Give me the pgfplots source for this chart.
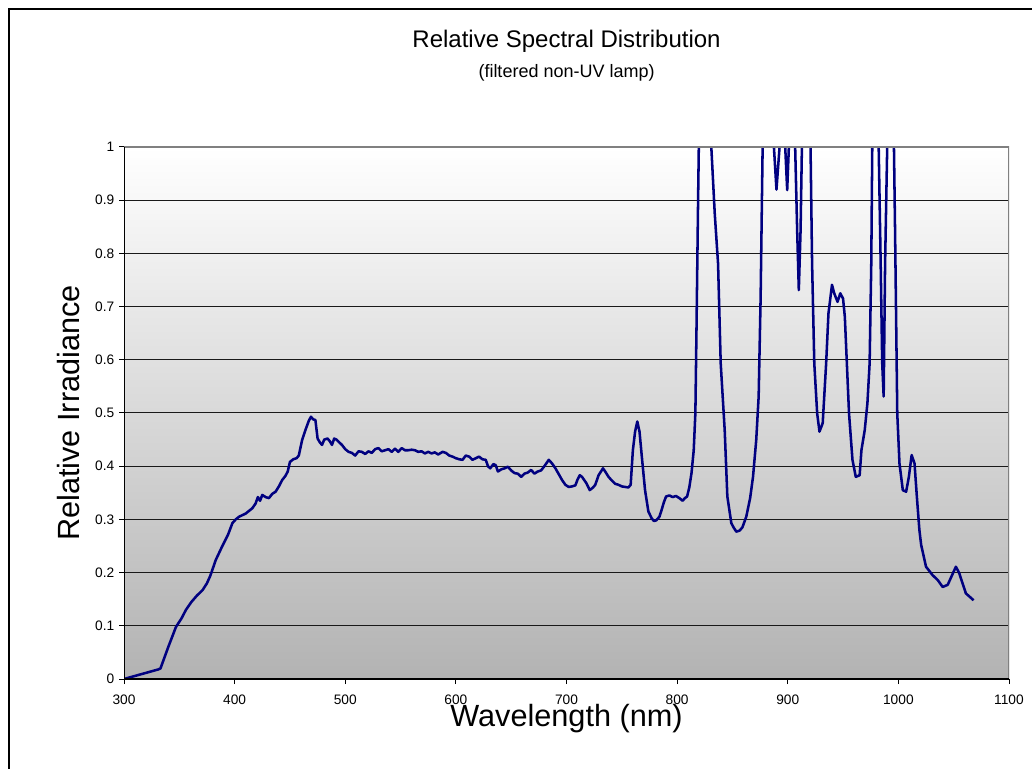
\documentclass[border=0pt]{standalone}
\usepackage{fontspec}
\setmainfont{Liberation Sans}
\usepackage{pgfplots}
\pgfplotsset{compat=1.18}
\definecolor{specline}{RGB}{0,0,128}

\begin{document}
\begin{tikzpicture}
% page = 1032 x 768 px at 0.75 pt per px
\useasboundingbox (0,0) rectangle (774pt,576pt);
\draw[black, line width=1.3pt] (6.75pt,-20pt) rectangle (800pt,569pt);

\node[anchor=base, font=\fontsize{18}{20}\selectfont] at (424.9pt,540pt) {Relative Spectral Distribution};
\node[anchor=base, font=\fontsize{13.5}{15}\selectfont] at (424.9pt,517.5pt) {(filtered non-UV lamp)};

\begin{axis}[
    at={(93pt,66.75pt)}, anchor=south west,
    scale only axis,
    width=663.75pt, height=399pt,
    xmin=300, xmax=1100,
    ymin=0, ymax=1,
    xtick={300,400,...,1100},
    ytick={0,0.1,...,1},
    yticklabels={0,0.1,0.2,0.3,0.4,0.5,0.6,0.7,0.8,0.9,1},
    xtick pos=bottom, ytick pos=left,
    tick align=outside,
    major tick length=3.75pt,
    tick style={black, line width=0.75pt},
    ymajorgrids,
    grid style={black!90, line width=0.75pt},
    axis line style={draw=none},
    axis background/.style={shade, top color=white, bottom color=black!30},
    ticklabel style={font=\fontsize{10.3}{12}\selectfont},
    xticklabel style={yshift=-5pt},
    /pgf/number format/assume math mode=true,
    /pgf/number format/1000 sep={},
    xlabel={Wavelength (nm)},
    ylabel={Relative Irradiance},
    label style={font=\fontsize{23}{26}\selectfont},
    xlabel style={at={(axis description cs:0.5,-0.0897)}, anchor=base},
    ylabel style={at={(axis description cs:-0.0508,0.5)}, anchor=base},
]
\addplot[specline, line width=1.9pt, line join=round] coordinates {
(300,0) (331,0.018) (333,0.02) (340,0.06) (347,0.098) (352,0.114) (356,0.13)
(361,0.145) (366,0.157) (371,0.167) (375,0.18) (378,0.194) (383,0.224)
(388,0.246) (394,0.271) (398,0.293) (401,0.300) (404,0.305) (410,0.311)
(416,0.321) (419,0.33) (421,0.342) (423,0.335) (425,0.346) (428,0.342)
(431,0.340) (434,0.348) (437,0.352) (440,0.362) (443,0.374) (446,0.382)
(448,0.39) (450,0.408) (453,0.413) (456,0.415) (458,0.42) (461,0.449)
(464,0.468) (467,0.485) (469,0.493) (471,0.488) (473,0.487) (475,0.452)
(477,0.445) (479,0.44) (481,0.45) (484,0.452) (486,0.447) (488,0.44)
(490,0.452) (492,0.45) (494,0.446) (497,0.44) (500,0.432) (503,0.427)
(506,0.425) (509,0.42) (512,0.428) (515,0.427) (518,0.423) (521,0.428)
(524,0.425) (527,0.432) (530,0.434) (533,0.428) (536,0.43) (539,0.432)
(542,0.427) (545,0.433) (548,0.427) (551,0.434) (554,0.43) (557,0.43)
(560,0.431) (563,0.430) (566,0.427) (569,0.428) (572,0.424) (575,0.427)
(578,0.424) (581,0.426) (584,0.422) (588,0.427) (591,0.425) (594,0.42)
(597,0.418) (600,0.415) (603,0.413) (606,0.412) (609,0.42) (612,0.418)
(615,0.412) (618,0.415) (621,0.418) (624,0.413) (627,0.412) (629,0.400)
(631,0.396) (634,0.404) (636,0.402) (638,0.39) (641,0.394) (644,0.396)
(647,0.399) (650,0.392) (653,0.387) (656,0.386) (659,0.380) (662,0.386)
(665,0.388) (668,0.393) (671,0.386) (674,0.39) (677,0.392) (680,0.4)
(684,0.412) (687,0.405) (690,0.396) (693,0.385) (696,0.374) (699,0.365)
(702,0.361) (705,0.362) (708,0.364) (710,0.375) (712,0.383) (714,0.38)
(716,0.374) (718,0.368) (721,0.355) (724,0.36) (726,0.365) (729,0.383)
(733,0.396) (735,0.39) (738,0.38) (741,0.373) (744,0.367) (747,0.365)
(750,0.362) (753,0.361) (756,0.36) (758,0.365) (760,0.43) (762,0.465)
(764,0.484) (766,0.465) (768,0.42) (771,0.355) (774,0.315) (777,0.302)
(779,0.297) (781,0.298) (784,0.305) (786,0.318) (788,0.332) (790,0.343)
(793,0.345) (796,0.342) (799,0.344) (802,0.34) (805,0.335) (807,0.340)
(809,0.343) (811,0.36) (813,0.387) (815,0.43) (816.5,0.5) (817.5,0.656)
(819,0.907) (819.6,1.0) (825,1.3) (830.9,1.0) (834,0.875) (837,0.781)
(839.4,0.593) (843,0.468) (845.4,0.343) (849,0.293) (851,0.285) (853.5,0.277)
(856.5,0.279) (859,0.285) (862.5,0.305) (866,0.34) (868.6,0.38) (871.5,0.449)
(873.7,0.531) (875.5,0.719) (876.7,0.907) (877.3,1.0) (882,1.3) (887.5,1.0)
(889.8,0.92) (892.6,1.0) (894,1.2) (897.7,1.0) (899.5,0.919) (901,1.0)
(904,1.2) (906.7,1.0) (908.5,0.844) (910,0.731) (911.6,0.844) (912.8,1.0)
(916,1.4) (920.6,1.0) (922,0.781) (924,0.593) (926.6,0.499) (928.7,0.465)
(931.6,0.481) (934.7,0.593) (936.8,0.687) (940,0.741) (942,0.725) (945,0.709)
(947.5,0.725) (950,0.715) (951.6,0.681) (955.4,0.499) (958.5,0.412) (961.5,0.380)
(965,0.383) (966.6,0.430) (969.6,0.468) (972,0.518) (974,0.593) (975.5,0.781)
(976.4,1.0) (979,1.3) (982.2,1.0) (984,0.781) (985.4,0.593) (986.7,0.531)
(988,0.781) (989.9,1.0) (993,1.3) (996,1.0) (997,0.844) (999,0.499)
(1001,0.405) (1004,0.355) (1007,0.352) (1009.5,0.380) (1012,0.421) (1014.6,0.405)
(1016.7,0.343) (1019,0.280) (1020.6,0.252) (1025,0.211) (1031,0.195) (1035.6,0.186)
(1040,0.173) (1044.6,0.177) (1048.5,0.195) (1052,0.211) (1055,0.199) (1058,0.180)
(1061,0.161) (1068,0.148)
};
% plot frame: grey top and right, black left and bottom
\draw[black!50, line width=1.5pt] (axis cs:300,1) -- (axis cs:1100,1) -- (axis cs:1100,0);
\draw[black, line width=1.2pt] (axis cs:300,1) -- (axis cs:300,0) -- (axis cs:1100,0);
\end{axis}
\end{tikzpicture}
\end{document}
